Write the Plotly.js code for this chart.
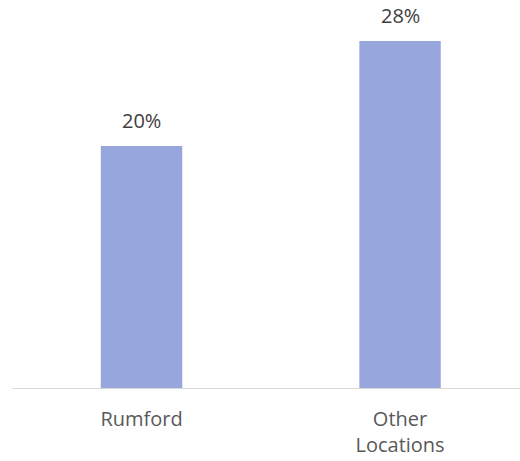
<!DOCTYPE html>
<html>
<head>
<meta charset="utf-8">
<script src="https://cdn.plot.ly/plotly-3.0.1.min.js"></script>
<style>html,body{margin:0;padding:0;background:#fff;}#chart{width:520px;height:461px;}</style>
</head>
<body>
<div id="chart"></div>
<script>
const categories = ["Rumford", "Other<br>Locations"];
const values = [0.196, 0.281];

const trace = {
  type: "bar",
  x: categories,
  y: values,
  marker: {color: "#97a7de"},
  width: 0.315,
  hoverinfo: "none"
};

const annotations = categories.map((c, i) => ({
  x: c, y: values[i], xref: "x", yref: "y",
  text: Math.round(values[i] * 100) + "%",
  showarrow: false, yanchor: "bottom", yshift: 10,
  font: {family: "Open Sans, sans-serif", size: 20, color: "#404040"}
}));

const layout = {
  width: 520, height: 461,
  margin: {l: 12, r: 0, t: 30, b: 73},
  paper_bgcolor: "#fff", plot_bgcolor: "#fff",
  showlegend: false,
  font: {family: "Open Sans, sans-serif", size: 20, color: "#595959"},
  annotations: annotations,
  xaxis: {
    type: "category",
    range: [-0.501, 1.464],
    showline: true, linecolor: "#d9d9d9", linewidth: 1,
    ticks: "", showgrid: false, zeroline: false,
    tickfont: {family: "Open Sans, sans-serif", size: 20, color: "#595959"},
    ticklabelstandoff: 13
  },
  yaxis: {
    range: [0, 0.29],
    visible: false, showgrid: false, zeroline: false
  }
};

Plotly.newPlot("chart", [trace], layout, {displayModeBar: false, staticPlot: true});
</script>
</body>
</html>
